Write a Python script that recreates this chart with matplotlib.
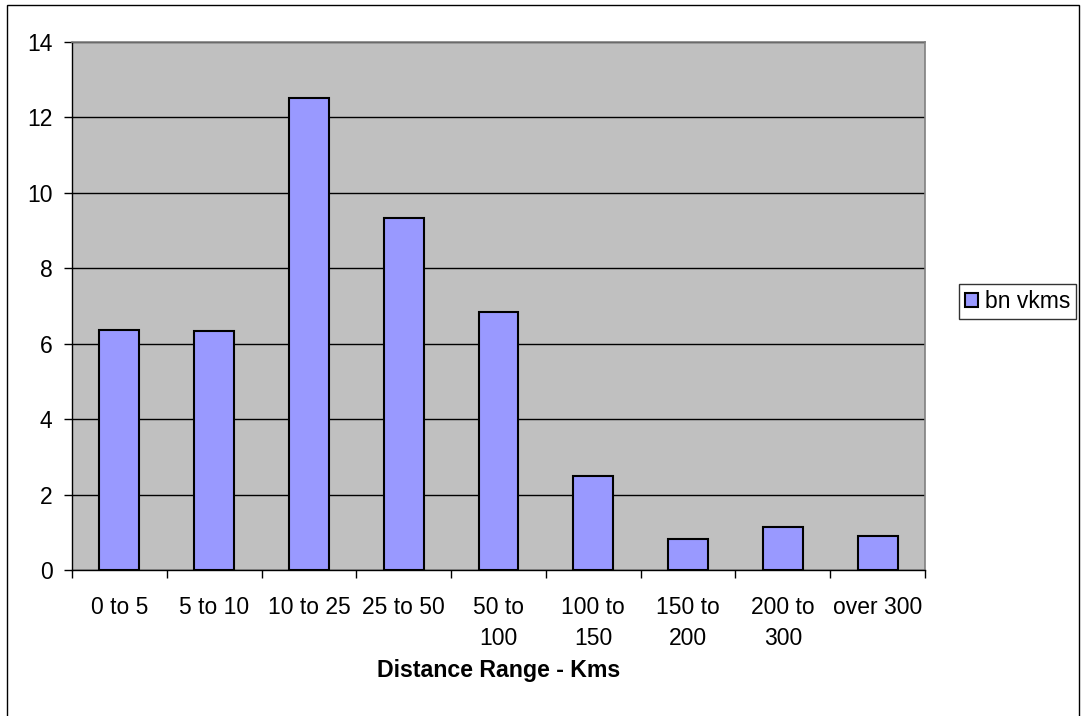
import matplotlib.pyplot as plt
from matplotlib.patches import Rectangle

plt.rcParams['font.family'] = ['Liberation Sans', 'DejaVu Sans']

# distance bands and billions of vehicle-km in each
categories = ['0 to 5', '5 to 10', '10 to 25', '25 to 50', '50 to\n100',
              '100 to\n150', '150 to\n200', '200 to\n300', 'over 300']
bn_vkms = [6.37, 6.33, 12.52, 9.34, 6.84, 2.48, 0.82, 1.14, 0.90]
y_ticks = [0, 2, 4, 6, 8, 10, 12, 14]

W, H = 1082, 716
fig = plt.figure(figsize=(W / 100, H / 100), dpi=100)
fig.patch.set_facecolor('white')

# outer chart border
fig.patches.append(Rectangle((7 / W, -0.01), (1079 - 7) / W, 1 - 5 / H + 0.01,
                             transform=fig.transFigure, fill=False,
                             edgecolor='black', linewidth=1.0))

ax = fig.add_axes([72 / W, 1 - 570 / H, (925 - 72) / W, (570 - 42) / H])
ax.set_facecolor('#C0C0C0')

x = list(range(len(categories)))
ax.bar(x, bn_vkms, width=0.42, color='#9999FF', edgecolor='black',
       linewidth=1.5, label='bn vkms', zorder=3)

ax.set_xlim(-0.5, len(categories) - 0.5)
ax.set_ylim(0, 14)
ax.set_yticks(y_ticks)
ax.yaxis.grid(True, color='black', linewidth=1.0, zorder=1)
ax.set_axisbelow(True)

# category labels centred, tick marks between categories
ax.set_xticks(x)
ax.set_xticklabels(categories, fontsize=16.5, linespacing=1.45)
ax.tick_params(axis='x', which='major', length=0, pad=19)
ax.set_xticks([i - 0.5 for i in range(len(categories) + 1)], minor=True)
ax.tick_params(axis='x', which='minor', length=6, width=1, color='black')
ax.tick_params(axis='y', labelsize=16.5, length=6, width=1, pad=8)

for side in ['top', 'right']:
    ax.spines[side].set_color('#808080')
    ax.spines[side].set_linewidth(1.2)
for side in ['left', 'bottom']:
    ax.spines[side].set_color('black')
    ax.spines[side].set_linewidth(1.0)

ax.set_xlabel('Distance Range - Kms', fontsize=16.7, fontweight='bold', labelpad=6)

leg = ax.legend(loc='center left', bbox_to_anchor=(959 / W, 1 - 301.5 / H),
                bbox_transform=fig.transFigure, fontsize=16.5, frameon=True,
                fancybox=False, handlelength=0.6, handleheight=0.6,
                handletextpad=0.3, borderpad=0.25, borderaxespad=0)
leg.get_frame().set_edgecolor('black')
leg.get_frame().set_linewidth(1.0)

fig.savefig('out.png', dpi=100)
